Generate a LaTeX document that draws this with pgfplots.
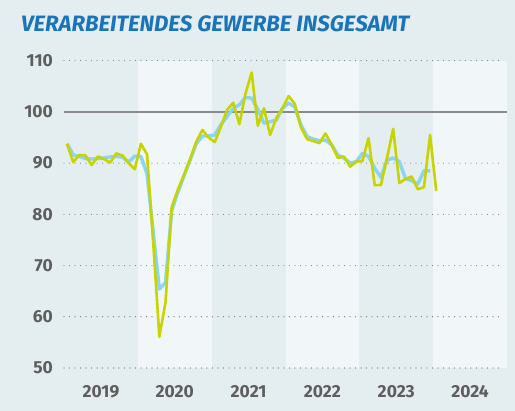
\documentclass[border=0pt]{standalone}
\usepackage{pgfplots}
\pgfplotsset{compat=1.18}
\usepackage{fontspec}
\setmainfont{Fira Sans}
\definecolor{bgc}{HTML}{E4EDF0}
\definecolor{bandc}{HTML}{F1F7F8}
\definecolor{titlec}{HTML}{1A74BB}
\definecolor{gridc}{HTML}{707070}
\definecolor{linec}{HTML}{8A8A8A}
\definecolor{bluec}{HTML}{8DD3F2}
\definecolor{greenc}{HTML}{C8D400}
\definecolor{textc}{HTML}{5E5E5E}
\begin{document}
\begin{tikzpicture}
\useasboundingbox (0bp,0bp) rectangle (515bp,411bp);
\fill[bgc] (0bp,0bp) rectangle (515bp,411bp);
\node[anchor=base west, inner sep=0pt, text=titlec, font=\fontsize{22.3}{26}\selectfont\bfseries\itshape] at (21bp,379.3bp) {VERARBEITENDES GEWERBE INSGESAMT};
\begin{axis}[at={(64bp,43bp)}, anchor=south west, scale only axis,
  width=443bp, height=307.3bp,
  xmin=-0.5, xmax=71.5, ymin=50, ymax=110,
  axis line style={draw=none}, major tick length=0pt,
  ytick={50,60,70,80,90,100,110},
  xtick={5.5,17.5,29.5,41.5,53.5,65.5},
  xticklabels={2019,2020,2021,2022,2023,2024},
  /pgf/number format/assume math mode=true,
  /pgf/number format/1000 sep={},
  tick label style={font=\fontsize{17.5}{20}\selectfont\bfseries, text=textc, inner sep=0pt},
  yticklabel style={anchor=east, xshift=-11bp},
  xticklabel style={anchor=north, yshift=-17bp},
  clip=false]
\fill[bandc] (axis cs:11.5,50) rectangle (axis cs:23.5,110);
\fill[bandc] (axis cs:35.5,50) rectangle (axis cs:47.5,110);
\fill[bandc] (axis cs:59.5,50) rectangle (axis cs:71.5,110);
\draw[gridc, line width=1.1bp, line cap=round, dash pattern=on 0pt off 5.5bp] (axis cs:-0.5,50) -- (axis cs:71,50);
\draw[gridc, line width=1.1bp, line cap=round, dash pattern=on 0pt off 5.5bp] (axis cs:-0.5,60) -- (axis cs:71,60);
\draw[gridc, line width=1.1bp, line cap=round, dash pattern=on 0pt off 5.5bp] (axis cs:-0.5,70) -- (axis cs:71,70);
\draw[gridc, line width=1.1bp, line cap=round, dash pattern=on 0pt off 5.5bp] (axis cs:-0.5,80) -- (axis cs:71,80);
\draw[gridc, line width=1.1bp, line cap=round, dash pattern=on 0pt off 5.5bp] (axis cs:-0.5,90) -- (axis cs:71,90);
\draw[gridc, line width=1.1bp, line cap=round, dash pattern=on 0pt off 5.5bp] (axis cs:-0.5,110) -- (axis cs:71,110);
\draw[linec, line width=1.3bp] (axis cs:-0.5,100) -- (axis cs:71.5,100);
\addplot[bluec, line width=3.4bp, line join=round] table {
x y
0 93.8
1 91.6
2 91.3
3 90.9
4 90.8
5 90.9
6 91.0
7 91.2
8 91.3
9 91.2
10 90.2
11 91.4
12 91.3
13 87.9
14 76.5
15 65.4
16 66.7
17 80.7
18 84.3
19 87.5
20 90.6
21 93.8
22 95.3
23 95.3
24 95.5
25 97.5
26 99.1
27 100.7
28 101.4
29 102.8
30 102.7
31 100.5
32 97.8
33 98.1
34 98.4
35 100.7
36 101.7
37 101.0
38 97.5
39 95.2
40 94.7
41 94.4
42 94.5
43 93.6
44 91.6
45 91.0
46 90.0
47 90.3
48 91.9
49 91.3
50 89.0
51 87.2
52 90.6
53 91.0
54 90.3
55 87.0
56 86.6
57 85.9
58 88.5
59 88.5
};
\addplot[greenc, line width=2.6bp, line join=round] table {
x y
0 93.8
1 90.2
2 91.6
3 91.5
4 89.6
5 91.3
6 90.8
7 90.1
8 91.9
9 91.5
10 90.0
11 88.8
12 93.8
13 91.7
14 74.5
15 56.1
16 62.8
17 81.4
18 84.8
19 87.7
20 90.8
21 94.2
22 96.5
23 95.0
24 94.1
25 97.1
26 100.4
27 101.8
28 97.6
29 103.6
30 107.7
31 97.3
32 100.7
33 95.5
34 98.8
35 100.7
36 103.1
37 101.6
38 97.0
39 94.7
40 94.3
41 93.9
42 95.8
43 93.6
44 91.0
45 91.3
46 89.3
47 90.3
48 90.4
49 94.9
50 85.7
51 85.7
52 91.0
53 96.7
54 86.1
55 86.9
56 87.4
57 84.9
58 85.3
59 95.5
60 84.6
};
\end{axis}
\end{tikzpicture}
\end{document}
